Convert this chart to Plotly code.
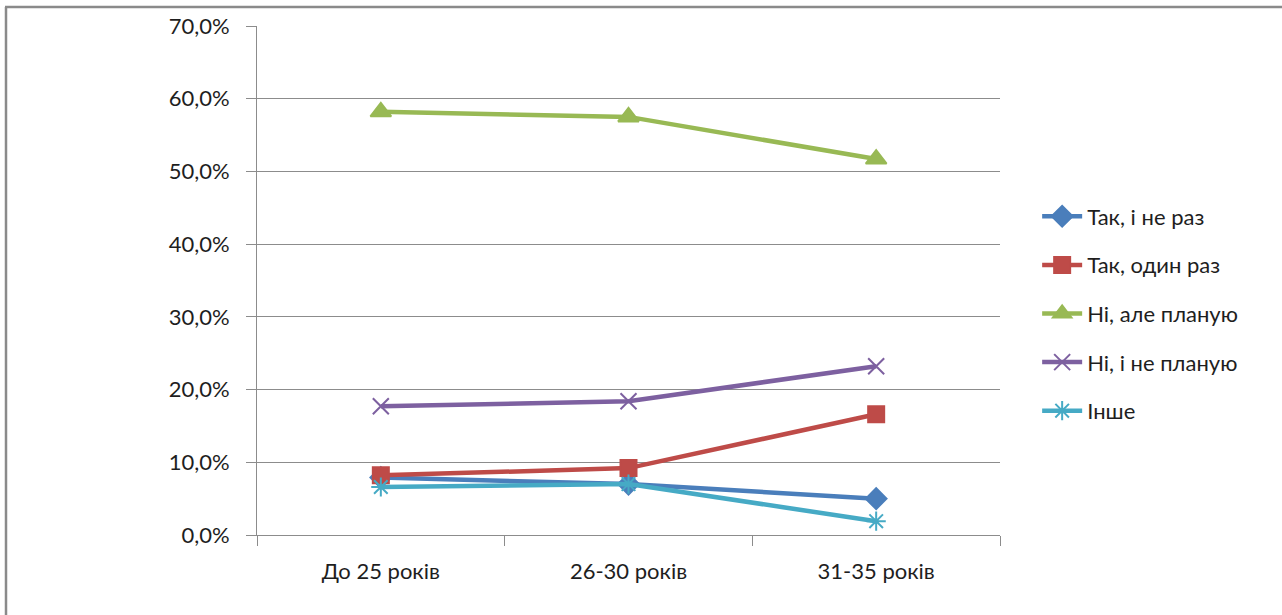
import plotly.graph_objects as go

# Age groups on the category axis
categories = ["До 25 років", "26-30 років", "31-35 років"]

# Share of respondents per answer (fractions)
series_names = ["Так, і не раз", "Так, один раз", "Ні, але планую", "Ні, і не планую", "Інше"]
tak_ne_raz = [0.079, 0.070, 0.050]
tak_odyn_raz = [0.082, 0.092, 0.166]
ni_planuyu = [0.582, 0.575, 0.517]
ni_ne_planuyu = [0.177, 0.184, 0.232]
inshe = [0.066, 0.070, 0.019]

y_ticks = [0, 0.1, 0.2, 0.3, 0.4, 0.5, 0.6, 0.7]
y_tick_labels = ["0,0%", "10,0%", "20,0%", "30,0%", "40,0%", "50,0%", "60,0%", "70,0%"]

series_values = [tak_ne_raz, tak_odyn_raz, ni_planuyu, ni_ne_planuyu, inshe]
colors = ["#4A7EBB", "#BE4B48", "#98B954", "#7D60A0", "#46AAC5"]
symbols = ["diamond", "square", "triangle-up", "x-thin-open", "asterisk-open"]
sizes = [16, 16, 18, 16, 16]

FONT = "Lato, 'Open Sans', sans-serif"
TEXT = "#1e1e1e"

fig = go.Figure()
for name, vals, col, sym, sz in zip(series_names, series_values, colors, symbols, sizes):
    fig.add_trace(go.Scatter(
        x=categories, y=vals, name=name, legendgroup=name,
        mode="lines+markers",
        line=dict(color=col, width=4.5),
        marker=dict(symbol=sym, size=sz, color=col, line=dict(color=col, width=2)),
    ))

fig.update_layout(
    width=1282, height=615, autosize=False,
    margin=dict(l=257, r=282, t=26, b=80),
    paper_bgcolor="white", plot_bgcolor="white",
    font=dict(family=FONT, size=22, color=TEXT),
    showlegend=True,
    legend=dict(
        x=1.05, y=0.667, xanchor="left", yanchor="top",
        font=dict(family=FONT, size=22, color=TEXT),
        tracegroupgap=17, itemwidth=40,
        bgcolor="rgba(0,0,0,0)",
    ),
    xaxis=dict(
        type="category", range=[-0.5, 2.5],
        tickson="boundaries", ticks="outside", ticklen=10, tickcolor="#8c8c8c", tickwidth=1,
        showline=True, linecolor="#8c8c8c", linewidth=1,
        showgrid=False, zeroline=False,
        ticklabelstandoff=17,
        tickfont=dict(family=FONT, size=22, color=TEXT),
    ),
    yaxis=dict(
        range=[0, 0.7], tickvals=y_ticks, ticktext=y_tick_labels,
        ticks="outside", ticklen=10, tickcolor="#8c8c8c", tickwidth=1,
        showline=True, linecolor="#8c8c8c", linewidth=1,
        showgrid=True, gridcolor="#8c8c8c", gridwidth=1,
        zeroline=False,
        ticklabelstandoff=12,
        tickfont=dict(family=FONT, size=22, color=TEXT),
    ),
    shapes=[
        # Outer chart frame (top and left edges visible)
        dict(type="line", xref="paper", yref="paper",
             x0=-252 / 743, x1=1.0 + 282 / 743, y0=1 + 19 / 509, y1=1 + 19 / 509,
             line=dict(color="#8a8a8a", width=2.5)),
        dict(type="line", xref="paper", yref="paper",
             x0=-251 / 743, x1=-251 / 743, y0=1 + 19 / 509, y1=-80 / 509,
             line=dict(color="#8a8a8a", width=2.5)),
    ],
)

fig.write_html("out.html")
